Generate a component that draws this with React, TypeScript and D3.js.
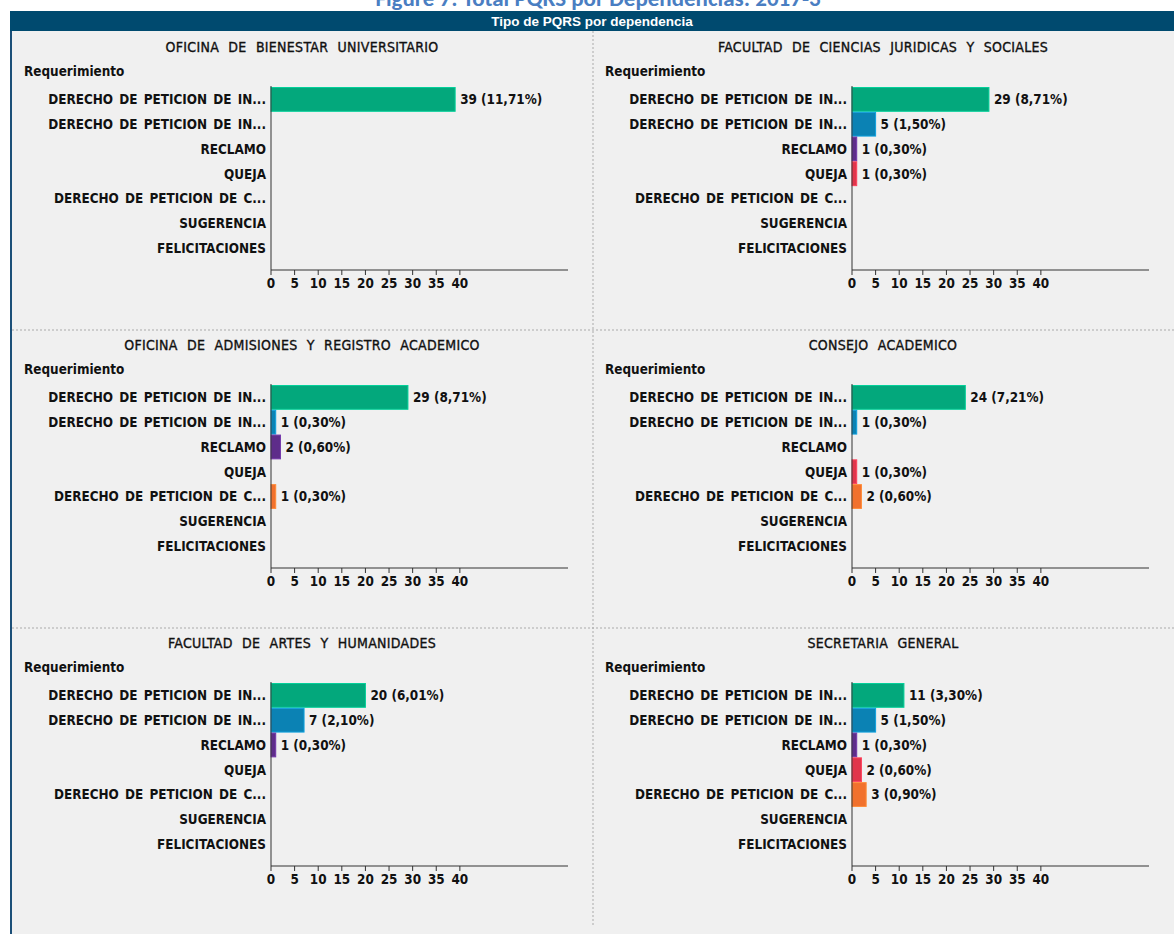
import React from 'react';
import * as d3 from 'd3';

// Data
const categories = [
  'DERECHO DE PETICION DE IN...',
  'DERECHO DE PETICION DE IN... ',
  'RECLAMO',
  'QUEJA',
  'DERECHO DE PETICION DE C...',
  'SUGERENCIA',
  'FELICITACIONES',
];
const categoryColors = ['#03a87c', '#0b82b4', '#5e2d8a', '#e1354b', '#f1712d', '#8cc63f', '#f2c500'];

const departments = [
  'OFICINA DE BIENESTAR UNIVERSITARIO',
  'FACULTAD DE CIENCIAS JURIDICAS Y SOCIALES',
  'OFICINA DE ADMISIONES Y REGISTRO ACADEMICO',
  'CONSEJO ACADEMICO',
  'FACULTAD DE ARTES Y HUMANIDADES',
  'SECRETARIA GENERAL',
];

const bienestar = [39, 0, 0, 0, 0, 0, 0];
const juridicas = [29, 5, 1, 1, 0, 0, 0];
const admisiones = [29, 1, 2, 0, 1, 0, 0];
const consejo = [24, 1, 0, 1, 2, 0, 0];
const artes = [20, 7, 1, 0, 0, 0, 0];
const secretaria = [11, 5, 1, 2, 3, 0, 0];
const seriesValues = [bienestar, juridicas, admisiones, consejo, artes, secretaria];

const bienestarPct = ['11,71%', '', '', '', '', '', ''];
const juridicasPct = ['8,71%', '1,50%', '0,30%', '0,30%', '', '', ''];
const admisionesPct = ['8,71%', '0,30%', '0,60%', '', '0,30%', '', ''];
const consejoPct = ['7,21%', '0,30%', '', '0,30%', '0,60%', '', ''];
const artesPct = ['6,01%', '2,10%', '0,30%', '', '', '', ''];
const secretariaPct = ['3,30%', '1,50%', '0,30%', '0,60%', '0,90%', '', ''];
const seriesPct = [bienestarPct, juridicasPct, admisionesPct, consejoPct, artesPct, secretariaPct];

const tickValues = [0, 5, 10, 15, 20, 25, 30, 35, 40];

const FONT = '"DejaVu Sans Condensed", "Liberation Sans Narrow", "Arial Narrow", sans-serif';
const FS = 13.4;

const Panel = ({ idx }: { idx: number }) => {
  const col = idx % 2;
  const row = Math.floor(idx / 2);
  const ox = col * 581;
  const oy = row * 298;

  const axisX = 271;
  const axisEnd = 568;
  const axisY = 270;

  const x = d3.scaleLinear().domain([0, 62.9]).range([axisX, axisEnd]);
  const y = d3.scaleBand().domain(categories).range([87.5, 260]).paddingInner(0.04);

  const values = seriesValues[idx];
  const pcts = seriesPct[idx];

  return (
    <g transform={`translate(${ox},${oy})`} fontFamily={FONT} fontStretch="condensed" fontWeight="bold" fill="#111">
      <text x={302} y={52} textAnchor="middle" fontSize={14} fontWeight="normal" stroke="#111"
        strokeWidth={0.35} letterSpacing={0.3} wordSpacing={5}>
        {departments[idx]}
      </text>
      <text x={24} y={75.5} fontSize={FS}>Requerimiento</text>
      {categories.map((c) => (
        <text key={c} x={266} y={(y(c) ?? 0) + y.bandwidth() / 2 + 4.8} textAnchor="end" fontSize={FS}
          wordSpacing={2}>
          {c.trim()}
        </text>
      ))}
      {categories.map((c, i) =>
        values[i] > 0 ? (
          <g key={'b' + i}>
            <rect x={x(0)} y={y(c)} width={x(values[i]) - x(0)} height={y.bandwidth()}
              fill={categoryColors[i]} stroke={d3.color(categoryColors[i])!.brighter(0.6).toString()}
              strokeWidth={1} />
            <text x={x(values[i]) + 5} y={(y(c) ?? 0) + y.bandwidth() / 2 + 4.8} fontSize={FS}>
              {`${values[i]} (${pcts[i]})`}
            </text>
          </g>
        ) : null
      )}
      <line x1={axisX} x2={axisX} y1={86} y2={axisY} stroke="#333" strokeWidth={1} />
      <line x1={axisX} x2={axisEnd} y1={axisY} y2={axisY} stroke="#333" strokeWidth={1} />
      {tickValues.map((t) => (
        <g key={t}>
          <line x1={x(t)} x2={x(t)} y1={axisY} y2={axisY + 5} stroke="#333" />
          <text x={x(t)} y={axisY + 18} textAnchor="middle" fontSize={13.4}>{t}</text>
        </g>
      ))}
    </g>
  );
};

const App = () => {
  return (
    <div style={{ position: 'absolute', left: 0, top: 0 }}>
      <svg width={1174} height={934} style={{ display: 'block' }}>
        <rect x={0} y={0} width={1174} height={934} fill="#ffffff" />
        {/* title, cut at the top */}
        <text x={598} y={6} textAnchor="middle" fontFamily="Carlito, Calibri, 'Open Sans', sans-serif"
          fontWeight="bold" fontSize={23} fill="#4a7ec2">
          Figure 7: Total PQRS por Dependencias: 2017-3
        </text>
        {/* panel background */}
        <rect x={10} y={11} width={1164} height={923} fill="#f0f0f0" />
        <line x1={11} x2={11} y1={11} y2={934} stroke="#1b4f78" strokeWidth={2} />
        {/* header */}
        <rect x={10} y={11} width={1164} height={20} fill="#004a6f" />
        <text x={592} y={26} textAnchor="middle" fill="#ffffff" fontFamily="'Liberation Sans', Arial, sans-serif"
          fontWeight="bold" fontSize={13.5}>
          Tipo de PQRS por dependencia
        </text>
        {/* grid separators */}
        <line x1={593} x2={593} y1={31} y2={926} stroke="#aaa" strokeDasharray="2,2" />
        <line x1={12} x2={1174} y1={330} y2={330} stroke="#aaa" strokeDasharray="2,2" />
        <line x1={12} x2={1174} y1={628} y2={628} stroke="#aaa" strokeDasharray="2,2" />
        {departments.map((d, i) => (
          <Panel key={d} idx={i} />
        ))}
      </svg>
    </div>
  );
};

export default App;
